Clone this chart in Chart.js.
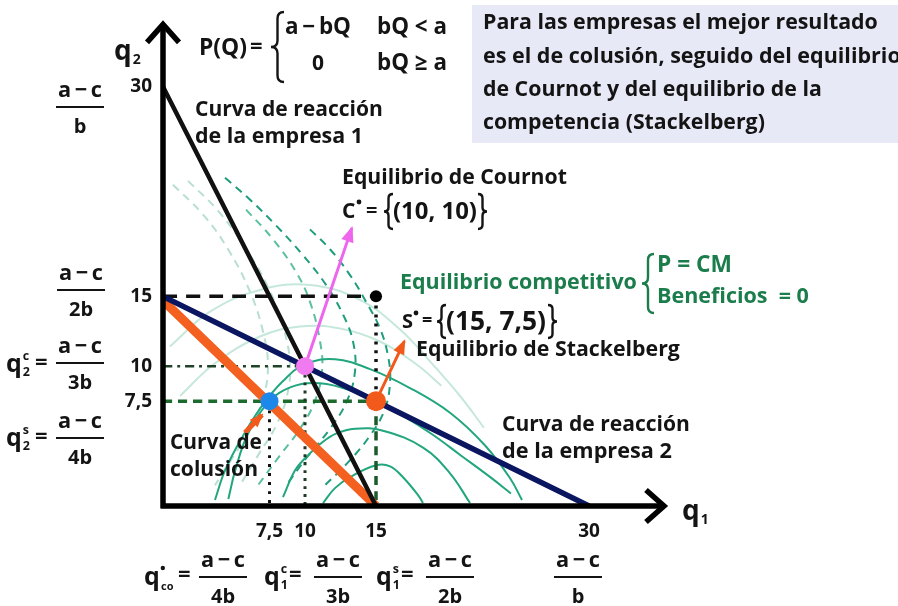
<!DOCTYPE html>
<html>
<head>
<meta charset="utf-8">
<script src="https://cdn.jsdelivr.net/npm/chart.js@4.4.0/dist/chart.umd.min.js"></script>
<style>
  body { margin: 0; background: #fff; }
  canvas { display: block; }
</style>
</head>
<body>
<canvas id="duopolyChart" width="898" height="606"></canvas>
<script>
// axis ticks
var xTicks = [7.5, 10, 15, 30];
var xTickLabels = ['7,5', '10', '15', '30'];
var yTicks = [7.5, 10, 15, 30];
var yTickLabels = ['7,5', '10', '15', '30'];

// reaction curves and collusion curve, [q1, q2]
var reaction1 = [[0, 30], [15, 0]];
var reaction2 = [[0, 15], [30, 0]];
var collusion = [[0, 14.7], [15, 0]];

// equilibria
var cournot = [10, 10];
var stackelberg = [15, 7.5];
var colluded = [7.5, 7.5];
var competitive = [15, 15];

// guide lines
var guide15h = [[0, 15], [15, 15]];
var guide15vTop = [[15, 15], [15, 7.5]];
var guide15vLow = [[15, 7.5], [15, 0]];
var guide10h = [[0, 10], [10, 10]];
var guide10v = [[10, 10], [10, 0]];
var guide75h = [[0, 7.5], [15, 7.5]];
var guide75v = [[7.5, 7.5], [7.5, 0]];

// isoprofit curves
var isoSolid1 = [[3.66, 0.43], [4.37, 2.55], [5.56, 4.89], [6.97, 7.16], [8.45, 8.94], [10.0, 10.14], [12.11, 10.5], [14.58, 9.79], [17.39, 8.44], [20.21, 6.67], [22.68, 4.33], [24.44, 1.99], [25.28, 0.43]];
var isoSolid2 = [[4.6, 0.5], [5.1, 2.6], [6.0, 5.2], [7.5, 7.5], [9.0, 8.5], [10.6, 8.8], [12.5, 8.5], [15, 7.5], [17, 6.4], [19, 5.1], [21, 3.6], [23, 2.1], [24.5, 0.9]];
var isoSolid3 = [[8.45, 0.64], [9.3, 2.55], [10.07, 3.48], [11.2, 4.54], [12.18, 5.18], [13.52, 5.53], [15.49, 5.39], [18.31, 4.18], [20.21, 2.34], [21.62, 0.21]];
var isoSolid4 = [[11.27, 0.21], [12.11, 1.28], [13.17, 2.06], [15.0, 2.91], [15.99, 2.84], [16.9, 2.06], [17.96, 0.78], [18.31, 0.21]];
var isoFaint1 = [[0.49, 11.42], [3.31, 13.9], [6.83, 15.46], [10.35, 15.82], [13.87, 14.75], [16.69, 12.62], [18.8, 10.35], [20.92, 7.87], [22.6, 5.6]];
var isoFaint2 = [[1.2, 7.87], [3.66, 10.21], [6.83, 12.13], [9.65, 12.84], [12.46, 12.7], [15.28, 11.77], [17.75, 10.21], [19.6, 8.6]];
var isoDash1 = [[4.37, 23.48], [6.13, 21.91], [7.96, 20.07], [9.86, 17.94], [11.48, 15.82], [12.68, 13.69], [13.38, 11.77], [13.52, 9.65], [12.96, 7.52], [11.76, 5.53], [10.07, 3.4], [8.59, 1.35]];
var isoDash2 = [[10.35, 19.79], [11.76, 18.37], [13.17, 16.52], [14.3, 14.61], [15.28, 12.7], [15.85, 10.71], [15.99, 8.94], [15.63, 6.95], [14.58, 5.04], [13.03, 3.12], [11.2, 1.28]];
var isoDash3 = [[5.85, 21.21], [7.75, 19.08], [9.37, 16.74], [10.35, 14.61], [11.06, 11.77], [11.2, 9.65], [10.7, 7.52], [9.65, 5.53], [8.24, 3.62], [6.69, 1.49]];
var isoDashFaint1 = [[0.7, 22.98], [2.82, 20.85], [4.58, 18.37], [6.13, 15.32], [7.04, 12.48], [7.39, 10.0], [7.04, 7.66], [6.13, 5.53], [4.86, 3.4], [3.66, 1.49]];
var isoDashFaint2 = [[1.76, 23.26], [3.87, 21.13], [5.77, 18.51], [7.39, 15.67], [8.45, 12.84], [8.94, 10.21], [8.73, 7.87], [7.96, 5.74], [6.69, 3.62], [5.42, 1.49]];

// pointer arrows
var cournotArrow = [[10, 10], [13.3, 19.9]];
var stackArrow = [[15, 7.5], [17.0, 11.8]];
var collusionArrow = [[5.77, 5.25], [6.97, 6.52]];

var INK = '#141414';
var GREEN_TXT = '#1b7d4c';
var FONT = '"Open Sans", Lato, "DejaVu Sans", sans-serif';
var WEIGHT = 'bold';

function pts(a) {
  return a.map(function (p) { return { x: p[0], y: p[1] }; });
}

function lineSet(a, color, width, dash, order, arrow) {
  return {
    data: pts(a),
    showLine: true,
    borderColor: color,
    borderWidth: width,
    borderDash: dash || [],
    borderCapStyle: 'butt',
    pointRadius: 0,
    tension: 0.4,
    fill: false,
    order: order,
    arrowHead: arrow || 0
  };
}

function dotSet(p, color, r) {
  return {
    data: pts([p]),
    showLine: false,
    pointRadius: r,
    pointHoverRadius: r,
    pointBackgroundColor: color,
    pointBorderWidth: 0,
    order: 0
  };
}

function put(ctx, s, x, y, size, align, color) {
  ctx.font = WEIGHT + ' ' + size + 'px ' + FONT;
  ctx.fillStyle = color || INK;
  ctx.textAlign = align || 'left';
  ctx.textBaseline = 'middle';
  ctx.fillText(s, x, y);
  return ctx.measureText(s).width;
}

// text scaled so that it spans the width seen in the picture
function putW(ctx, s, x, y, w, align, color) {
  ctx.font = WEIGHT + ' 20px ' + FONT;
  var size = 20 * w / ctx.measureText(s).width;
  return put(ctx, s, x, y, size, align, color);
}

function frac(ctx, cx, ly, num, den) {
  putW(ctx, num, cx, ly - 16, 44, 'center');
  put(ctx, den, cx, ly + 20, 20, 'center');
  ctx.strokeStyle = INK;
  ctx.lineWidth = 2;
  ctx.beginPath();
  ctx.moveTo(cx - 24, ly);
  ctx.lineTo(cx + 24, ly);
  ctx.stroke();
}

function qsym(ctx, x, y, sub, sup, size) {
  var w = put(ctx, 'q', x, y, size);
  if (sub) put(ctx, sub, x + w + 1, y + size * 0.3, size * 0.5);
  if (sup === '•') {
    ctx.fillStyle = INK;
    ctx.beginPath();
    ctx.arc(x + w + 3, y - size * 0.4, 2.2, 0, Math.PI * 2);
    ctx.fill();
  } else if (sup) {
    put(ctx, sup, x + w + 1, y - size * 0.35, size * 0.5);
  }
}

function brace(ctx, x, top, bottom, w, open, color) {
  var s = open ? 1 : -1;
  var mid = (top + bottom) / 2;
  var r = Math.min(w / 2, (bottom - top) * 0.12);
  ctx.strokeStyle = color || INK;
  ctx.lineWidth = 2.4;
  ctx.beginPath();
  ctx.moveTo(x + s * w, top);
  ctx.quadraticCurveTo(x + s * w / 2, top, x + s * w / 2, top + r);
  ctx.lineTo(x + s * w / 2, mid - r);
  ctx.quadraticCurveTo(x + s * w / 2, mid, x, mid);
  ctx.quadraticCurveTo(x + s * w / 2, mid, x + s * w / 2, mid + r);
  ctx.lineTo(x + s * w / 2, bottom - r);
  ctx.quadraticCurveTo(x + s * w / 2, bottom, x + s * w, bottom);
  ctx.stroke();
}

var overlay = {
  id: 'overlay',
  beforeDraw: function (chart) {
    var ctx = chart.ctx;
    ctx.save();
    ctx.fillStyle = '#e7e9f7';
    ctx.fillRect(472, 5, 426, 138);
    ctx.restore();
  },
  afterDatasetsDraw: function (chart) {
    var ctx = chart.ctx;
    var a = chart.chartArea;
    ctx.save();
    // arrow heads
    chart.data.datasets.forEach(function (ds, i) {
      if (!ds.arrowHead) return;
      var m = chart.getDatasetMeta(i).data;
      var p0 = m[m.length - 2], p1 = m[m.length - 1];
      var ang = Math.atan2(p1.y - p0.y, p1.x - p0.x);
      var L = ds.arrowHead, W = ds.arrowHead * 0.45;
      ctx.fillStyle = ds.borderColor;
      ctx.beginPath();
      ctx.moveTo(p1.x + Math.cos(ang) * 2, p1.y + Math.sin(ang) * 2);
      ctx.lineTo(p1.x - Math.cos(ang) * L - Math.sin(ang) * W, p1.y - Math.sin(ang) * L + Math.cos(ang) * W);
      ctx.lineTo(p1.x - Math.cos(ang) * L + Math.sin(ang) * W, p1.y - Math.sin(ang) * L - Math.cos(ang) * W);
      ctx.closePath();
      ctx.fill();
    });
    // axes with open arrow heads
    ctx.strokeStyle = '#000';
    ctx.lineWidth = 5.5;
    ctx.lineJoin = 'miter';
    ctx.beginPath();
    ctx.moveTo(a.left, a.bottom + 2);
    ctx.lineTo(a.left, a.top + 2);
    ctx.moveTo(a.left - 2.5, a.bottom);
    ctx.lineTo(a.right - 2, a.bottom);
    ctx.stroke();
    ctx.beginPath();
    ctx.moveTo(a.left - 16, a.top + 20);
    ctx.lineTo(a.left, a.top + 2);
    ctx.lineTo(a.left + 16, a.top + 20);
    ctx.moveTo(a.right - 20, a.bottom - 16);
    ctx.lineTo(a.right - 2, a.bottom);
    ctx.lineTo(a.right - 20, a.bottom + 16);
    ctx.stroke();
    ctx.restore();
  },
  afterDraw: function (chart) {
    var ctx = chart.ctx;
    ctx.save();
    // axis titles
    qsym(ctx, 114, 52, '2', null, 28);
    qsym(ctx, 682, 512, '1', null, 28);

    // left fractions
    frac(ctx, 80, 107, 'a\u2009−\u2009c', 'b');
    frac(ctx, 81, 290, 'a\u2009−\u2009c', '2b');
    qsym(ctx, 6, 365, '2', 'c', 25);
    put(ctx, '=', 35, 363, 22);
    frac(ctx, 80, 363, 'a\u2009−\u2009c', '3b');
    qsym(ctx, 6, 439, '2', 's', 25);
    put(ctx, '=', 35, 437, 22);
    frac(ctx, 80, 438, 'a\u2009−\u2009c', '4b');

    // bottom fractions
    qsym(ctx, 144, 578, null, '•', 25);
    put(ctx, 'co', 161, 587, 11);
    put(ctx, '=', 178, 575, 22);
    frac(ctx, 223, 577, 'a\u2009−\u2009c', '4b');
    qsym(ctx, 264, 578, '1', 'c', 25);
    put(ctx, '=', 289, 575, 22);
    frac(ctx, 338, 577, 'a\u2009−\u2009c', '3b');
    qsym(ctx, 376, 578, '1', 's', 25);
    put(ctx, '=', 401, 575, 22);
    frac(ctx, 450, 577, 'a\u2009−\u2009c', '2b');
    frac(ctx, 578, 577, 'a\u2009−\u2009c', 'b');

    // demand
    putW(ctx, 'P(Q)', 199, 48, 48);
    put(ctx, '=', 250, 47, 22);
    brace(ctx, 271, 12, 82, 13, true);
    putW(ctx, 'a\u2009−\u2009bQ', 285, 28, 66);
    putW(ctx, 'bQ < a', 377, 28, 70);
    put(ctx, '0', 318, 64, 21, 'center');
    putW(ctx, 'bQ ≥ a', 377, 64, 70);

    // note box text
    putW(ctx, 'Para las empresas el mejor resultado', 483, 23, 395);
    putW(ctx, 'es el de colusión, seguido del equilibrio', 483, 57, 418);
    putW(ctx, 'de Cournot y del equilibrio de la', 483, 90, 339);
    putW(ctx, 'competencia (Stackelberg)', 483, 123, 282);

    // annotations
    putW(ctx, 'Curva de reacción', 195, 110, 188);
    putW(ctx, 'de la empresa 1', 195, 137, 168);
    putW(ctx, 'Equilibrio de Cournot', 342, 178, 225);
    put(ctx, 'C', 342, 212, 21);
    ctx.fillStyle = INK;
    ctx.beginPath(); ctx.arc(359, 202, 2.4, 0, Math.PI * 2); ctx.fill();
    put(ctx, '=', 366, 211, 20);
    brace(ctx, 384, 194, 229, 9, true);
    putW(ctx, '(10, 10)', 393, 212, 84);
    brace(ctx, 487, 194, 229, 9, false);

    putW(ctx, 'Equilibrio competitivo', 400, 283, 237, 'left', GREEN_TXT);
    brace(ctx, 642, 254, 313, 12, true, GREEN_TXT);
    putW(ctx, 'P = CM', 657, 266, 75, 'left', GREEN_TXT);
    putW(ctx, 'Beneficios  = 0', 657, 297, 152, 'left', GREEN_TXT);

    put(ctx, 'S', 402, 322, 20);
    ctx.fillStyle = INK;
    ctx.beginPath(); ctx.arc(416, 313, 2.4, 0, Math.PI * 2); ctx.fill();
    put(ctx, '=', 422, 321, 18);
    brace(ctx, 437, 305, 338, 9, true);
    putW(ctx, '(15, 7,5)', 446, 322, 100);
    brace(ctx, 557, 305, 338, 9, false);
    putW(ctx, 'Equilibrio de Stackelberg', 416, 350, 264);

    putW(ctx, 'Curva de reacción', 502, 425, 188);
    putW(ctx, 'de la empresa 2', 502, 452, 170);
    putW(ctx, 'Curva de', 170, 443, 92);
    putW(ctx, 'colusión', 170, 470, 88);
    ctx.restore();
  }
};

var tickFont = { family: FONT, size: 19, weight: 'bold' };

var ctx = document.getElementById('duopolyChart').getContext('2d');
var duopolyChart = new Chart(ctx, {
  type: 'scatter',
  data: {
    datasets: [
      dotSet(cournot, '#f07af0', 9),
      dotSet(colluded, '#1e88ea', 9),
      dotSet(stackelberg, '#f25a1c', 10),
      dotSet(competitive, '#000', 6),
      lineSet(cournotArrow, '#ee66ee', 3, [], 1, 14),
      lineSet(stackArrow, '#f25a1c', 3, [], 1, 13),
      lineSet(collusionArrow, '#f25a1c', 5, [], 1, 12),
      lineSet(reaction2, '#0b1660', 5.5, [], 2),
      lineSet(reaction1, '#111', 4.5, [], 3),
      lineSet(collusion, '#f4601f', 9, [], 4),
      lineSet(guide15h, '#111', 3.5, [14, 9], 5),
      lineSet(guide15vTop, '#111', 3.5, [3, 6], 5),
      lineSet(guide15vLow, '#1c5a2c', 3.5, [9, 6], 5),
      lineSet(guide10h, '#1f4228', 2.5, [9, 5, 3, 5], 5),
      lineSet(guide10v, '#1d3b24', 3, [3, 5], 5),
      lineSet(guide75h, '#1c6a2e', 3.5, [9, 6], 5),
      lineSet(guide75v, '#111', 3, [3, 6], 5),
      lineSet(isoSolid1, '#22a67e', 2, [], 6),
      lineSet(isoSolid2, '#22a67e', 2, [], 6),
      lineSet(isoSolid3, '#22a67e', 2, [], 6),
      lineSet(isoSolid4, '#22a67e', 2, [], 6),
      lineSet(isoDash1, '#1f9d7c', 2, [8, 6], 7),
      lineSet(isoDash2, '#1f9d7c', 2, [8, 6], 7),
      lineSet(isoDash3, '#5cbf9f', 2, [8, 6], 7),
      lineSet(isoFaint1, '#c6e8db', 2, [], 8),
      lineSet(isoFaint2, '#c6e8db', 2, [], 8),
      lineSet(isoDashFaint1, '#b8dfd0', 2, [8, 6], 8),
      lineSet(isoDashFaint2, '#b8dfd0', 2, [8, 6], 8)
    ]
  },
  options: {
    responsive: false,
    animation: false,
    events: [],
    layout: {
      padding: { left: 123, top: 18, right: 232, bottom: 40 }
    },
    plugins: {
      legend: { display: false },
      tooltip: { enabled: false }
    },
    scales: {
      x: {
        type: 'linear',
        min: 0,
        max: 35.42,
        afterBuildTicks: function (s) { s.ticks = xTicks.map(function (v) { return { value: v }; }); },
        afterFit: function (s) { s.height = 60; },
        grid: { display: false, drawTicks: false },
        border: { display: false },
        ticks: {
          autoSkip: false,
          maxRotation: 0,
          padding: 14,
          color: INK,
          font: tickFont,
          callback: function (v, i) { return xTickLabels[i]; }
        }
      },
      y: {
        type: 'linear',
        min: 0,
        max: 34.6,
        afterBuildTicks: function (s) { s.ticks = yTicks.map(function (v) { return { value: v }; }); },
        afterFit: function (s) { s.width = 40; },
        grid: { display: false, drawTicks: false },
        border: { display: false },
        ticks: {
          autoSkip: false,
          padding: 11,
          color: INK,
          font: tickFont,
          callback: function (v, i) { return yTickLabels[i]; }
        }
      }
    }
  },
  plugins: [overlay]
});
</script>
</body>
</html>
